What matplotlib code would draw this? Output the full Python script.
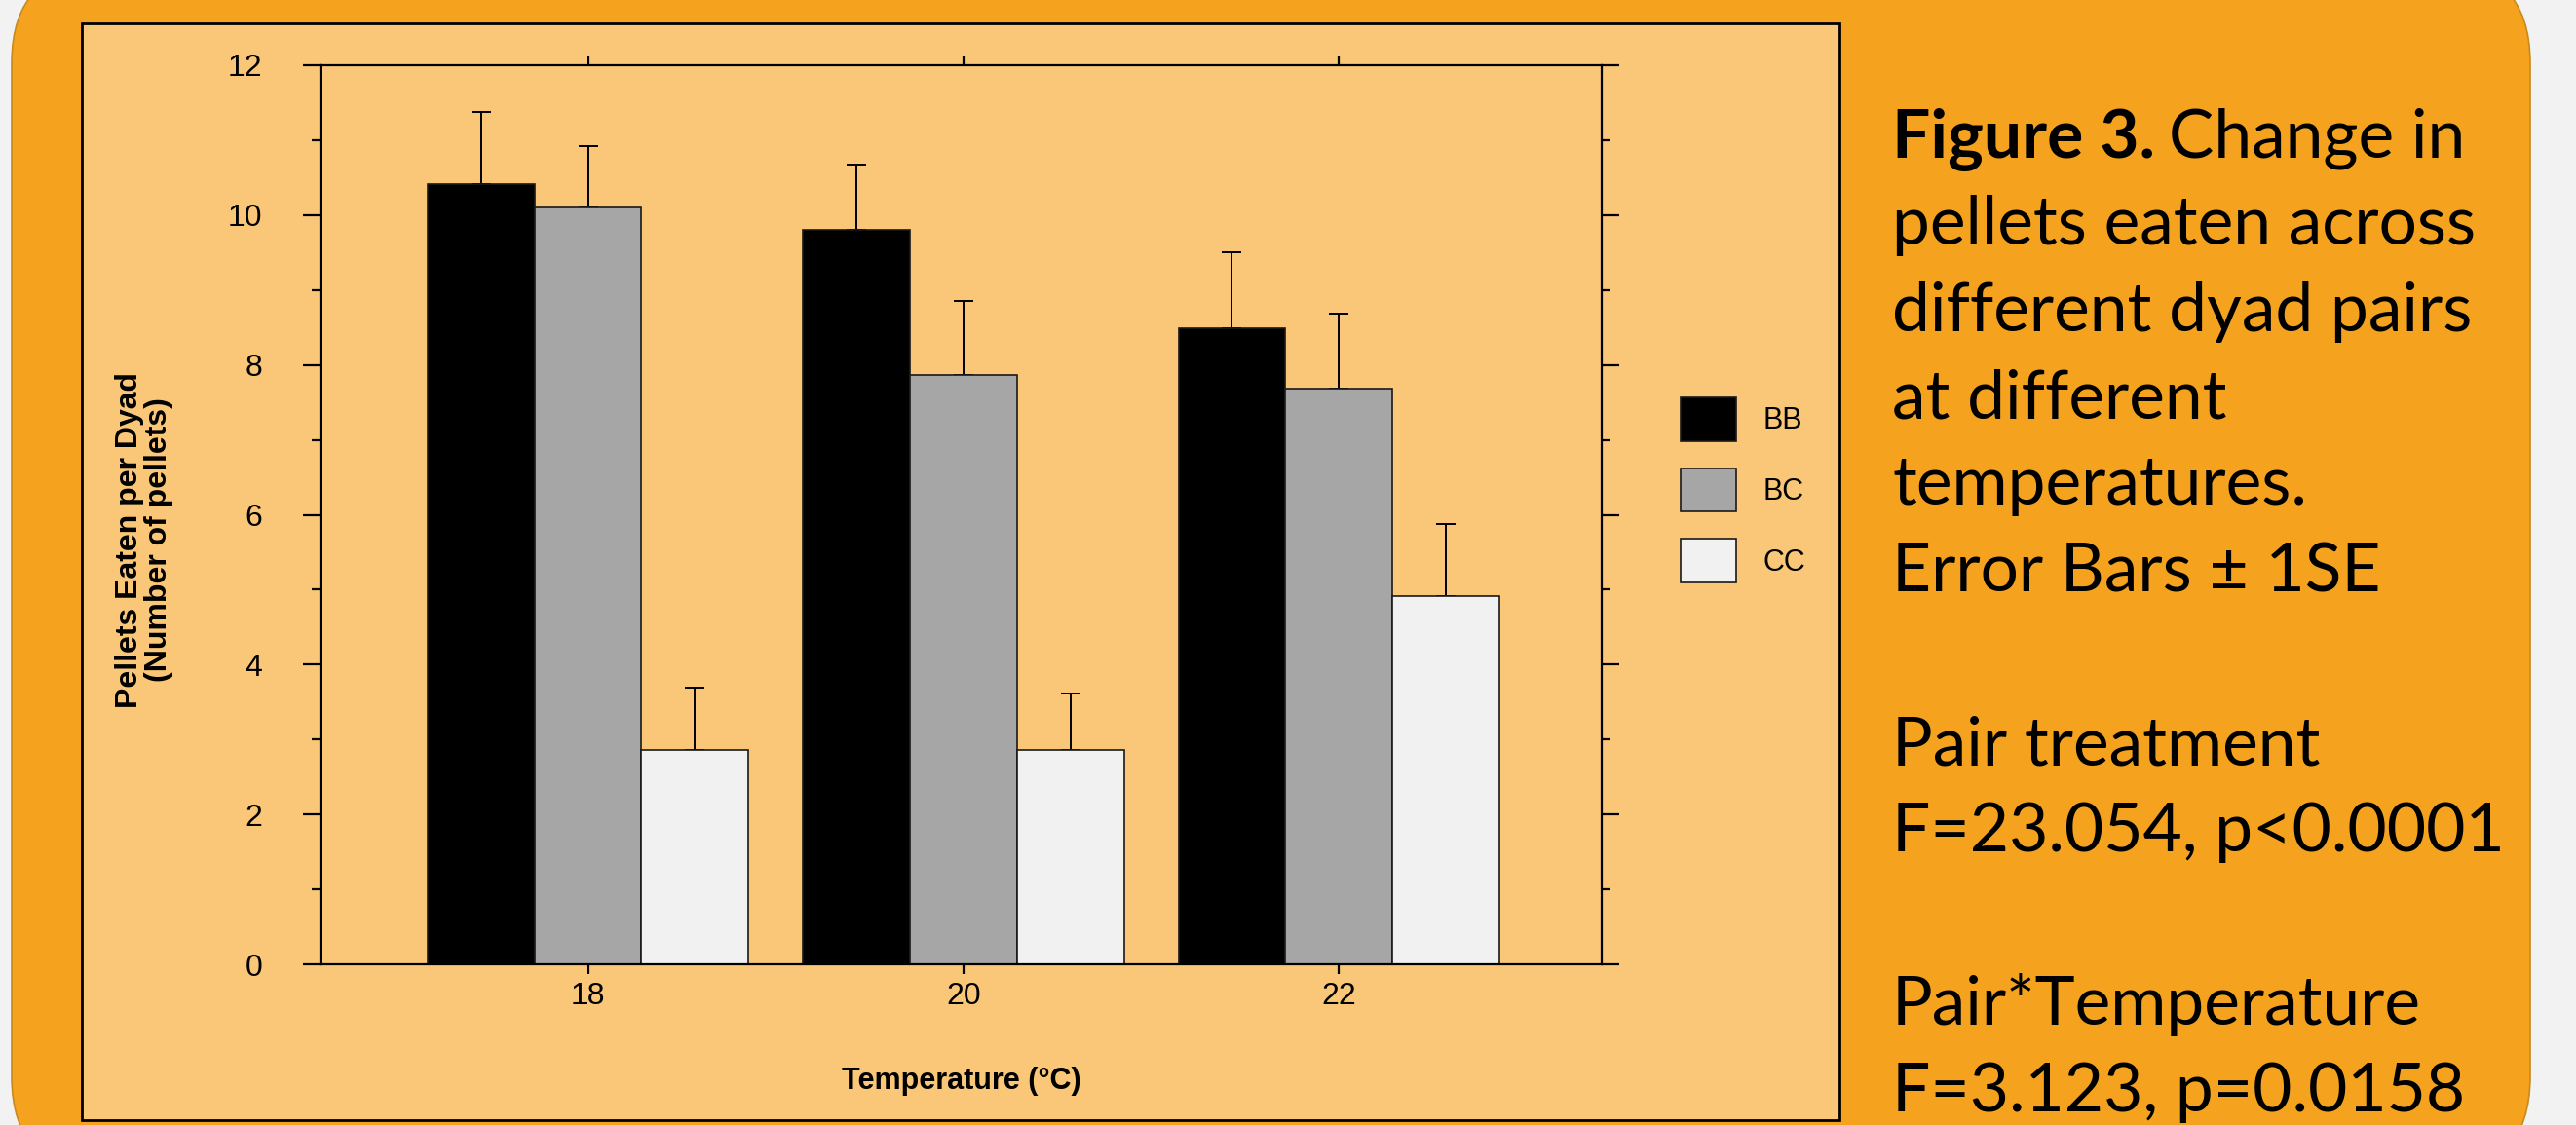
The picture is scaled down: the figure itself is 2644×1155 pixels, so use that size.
import matplotlib
matplotlib.use("Agg")
import matplotlib.pyplot as plt
from matplotlib.patches import FancyBboxPatch, Rectangle
from matplotlib.ticker import MultipleLocator
import numpy as np

# data
temps = [18, 20, 22]
pairs = ["BB", "BC", "CC"]
means = {
    "BB": [10.42, 9.80, 8.49],
    "BC": [10.10, 7.86, 7.68],
    "CC": [2.86, 2.86, 4.92],
}
se = {
    "BB": [0.95, 0.88, 1.01],
    "BC": [0.82, 1.00, 1.00],
    "CC": [0.83, 0.76, 0.95],
}
colors = {"BB": "#000000", "BC": "#A6A6A6", "CC": "#F1F1F1"}

caption = [
    "pellets eaten across",
    "different dyad pairs",
    "at different",
    "temperatures.",
    "Error Bars \u00b1 1SE",
    "",
    "Pair treatment",
    "F=23.054, p<0.0001",
    "",
    "Pair*Temperature",
    "F=3.123, p=0.0158",
]

W, H = 2644, 1155
fig = plt.figure(figsize=(W / 100, H / 100), dpi=100)
fig.patch.set_facecolor("#F2F2F2")

# orange poster box, top corners rounded
box = FancyBboxPatch((0.12, -0.5), 25.85, 11.55 + 0.35 + 0.5,
                     boxstyle="round,pad=0,rounding_size=1.0",
                     transform=fig.dpi_scale_trans, facecolor="#F5A31E",
                     edgecolor="#C8891E", linewidth=1.2, zorder=-2)
fig.patches.append(box)

# light panel behind the chart
panel = Rectangle((0.84, 0.05), 18.04, 11.26, transform=fig.dpi_scale_trans,
                  facecolor="#F9C777", edgecolor="black", linewidth=2.0, zorder=-1)
fig.patches.append(panel)

ax = fig.add_axes([329 / W, (H - 990) / H, (1644 - 329) / W, (990 - 67) / H])
ax.patch.set_alpha(0)

w = 0.57
x = np.array(temps, dtype=float)
for i, p in enumerate(pairs):
    xs = x + (i - 1) * w
    ax.bar(xs, means[p], width=w, color=colors[p], edgecolor="#1a1a1a",
           linewidth=1.2, label=p, zorder=2)
    ax.errorbar(xs, means[p], yerr=[np.zeros(3), se[p]], fmt="none",
                ecolor="black", elinewidth=1.4, capsize=7, capthick=1.4, zorder=1)

ax.set_xlim(16.575, 23.40)
ax.set_ylim(0, 12)
ax.set_xticks(temps)
ax.yaxis.set_major_locator(MultipleLocator(2))
ax.yaxis.set_minor_locator(MultipleLocator(1))

font = "Liberation Sans"
for s in ax.spines.values():
    s.set_linewidth(1.6)
ax.tick_params(axis="x", which="major", direction="out", length=7, width=1.6,
               top=True, labelsize=23, pad=6)
ax.tick_params(axis="y", which="major", direction="out", length=13, width=1.6,
               right=True, labelsize=23, pad=30)
ax.tick_params(axis="y", which="minor", direction="out", length=6.5, width=1.6, right=True)
for lab in ax.get_xticklabels() + ax.get_yticklabels():
    lab.set_fontfamily(font)

ax.set_xlabel("Temperature (\u00b0C)", fontsize=22, fontweight="bold",
              family=font, labelpad=41)
ax.set_ylabel("Pellets Eaten per Dyad\n(Number of pellets)", fontsize=23,
              fontweight="bold", family=font, labelpad=40,
              linespacing=1.0)
ax.yaxis.label.set_y(0.472)

leg = ax.legend(loc="upper left", bbox_to_anchor=(1725 / W, 1 - 408 / H),
                bbox_transform=fig.transFigure, frameon=False,
                handlelength=1.87, handleheight=1.87, handletextpad=0.9,
                labelspacing=0.92, borderpad=0, borderaxespad=0,
                prop={"family": font, "size": 22})

# caption text on the right
x0 = 1942 / W
step = 89.0
base0 = 162.0
fs = 50
t1 = fig.text(x0, 1 - base0 / H, "Figure 3.", fontsize=fs, fontweight="bold",
              family="Lato", va="baseline", ha="left")
r = fig.canvas.get_renderer()
bb = t1.get_window_extent(renderer=r)
fig.text(bb.x1 / W + 14 / W, 1 - base0 / H, "Change in", fontsize=fs,
         family="Lato", va="baseline", ha="left")
for i, line in enumerate(caption, start=1):
    if line:
        fig.text(x0, 1 - (base0 + i * step) / H, line, fontsize=fs,
                 family="Lato", va="baseline", ha="left")

fig.savefig("out.png", dpi=100, facecolor=fig.get_facecolor())
